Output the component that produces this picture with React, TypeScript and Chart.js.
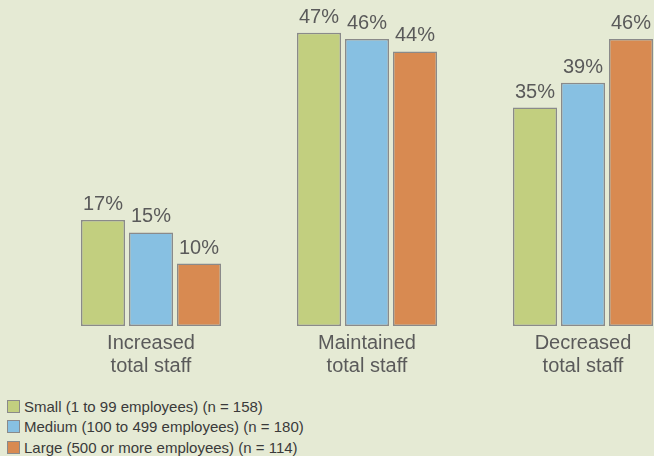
import React, { useEffect, useRef } from "react";
import { Chart, registerables } from "chart.js";

Chart.register(...registerables);

const categories: string[][] = [
  ["Increased", "total staff"],
  ["Maintained", "total staff"],
  ["Decreased", "total staff"],
];
const seriesNames = [
  "Small (1 to 99 employees) (n = 158)",
  "Medium (100 to 499 employees) (n = 180)",
  "Large (500 or more employees) (n = 114)",
];
const smallValues = [17, 47, 35];
const mediumValues = [15, 46, 39];
const largeValues = [10, 44, 46];

const BG = "#e5ead4";
const COLORS = ["#c2cf7f", "#87c0e2", "#d88a51"];
const BORDER = "#8a8a8a";
const TEXT = "#5a5a5a";
const FONT = "'Liberation Sans', Arial, Helvetica, sans-serif";

const valueLabels = {
  id: "valueLabels",
  afterDatasetsDraw(chart: any) {
    const ctx = chart.ctx;
    ctx.save();
    ctx.font = `20px ${FONT}`;
    ctx.fillStyle = TEXT;
    ctx.textAlign = "center";
    ctx.textBaseline = "alphabetic";
    chart.data.datasets.forEach((ds: any, i: number) => {
      const meta = chart.getDatasetMeta(i);
      meta.data.forEach((el: any, j: number) => {
        ctx.fillText(`${ds.data[j]}%`, el.x, el.y - 10);
      });
    });
    ctx.restore();
  },
};

export default function App() {
  const ref = useRef<HTMLCanvasElement>(null);

  useEffect(() => {
    document.body.style.margin = "0";
    document.body.style.overflow = "hidden";
    document.body.style.background = BG;
    const series = [smallValues, mediumValues, largeValues];
    const chart = new Chart(ref.current!, {
      type: "bar",
      data: {
        labels: categories,
        datasets: series.map((d, i) => ({
          label: seriesNames[i],
          data: d,
          backgroundColor: COLORS[i],
          borderColor: BORDER,
          borderWidth: 1.5,
          borderSkipped: false,
          barPercentage: 44 / 48,
          categoryPercentage: 144 / 216,
        })),
      },
      options: {
        responsive: false,
        animation: false,
        layout: { padding: { top: 14, left: 43, right: 9, bottom: 0 } },
        plugins: {
          legend: { display: false },
          tooltip: { enabled: false },
        },
        scales: {
          x: {
            grid: { display: false, drawTicks: false },
            border: { display: false },
            ticks: {
              color: TEXT,
              padding: 6,
              font: { family: FONT, size: 20, lineHeight: 1.15 },
            },
          },
          y: {
            display: false,
            min: 0,
            max: 50,
          },
        },
      },
      plugins: [valueLabels],
    });
    return () => chart.destroy();
  }, []);

  const rows = seriesNames.map((name, i) => (
    <div
      key={name}
      style={{ display: "flex", alignItems: "center", height: 20.5 }}
    >
      <span
        style={{
          width: 11,
          height: 11,
          background: COLORS[i],
          border: `1px solid ${BORDER}`,
          marginRight: 4,
          flex: "none",
        }}
      />
      <span style={{ whiteSpace: "nowrap" }}>{name}</span>
    </div>
  ));

  return (
    <div
      style={{
        position: "relative",
        width: 654,
        height: 456,
        overflow: "hidden",
        background: BG,
      }}
    >
      <canvas
        ref={ref}
        width={700}
        height={384}
        style={{ display: "block", position: "absolute", left: 0, top: 0 }}
      />
      <div
        style={{
          position: "absolute",
          left: 7,
          top: 396,
          fontFamily: FONT,
          fontSize: 15,
          color: "#3a3a3a",
        }}
      >
        {rows}
      </div>
    </div>
  );
}
